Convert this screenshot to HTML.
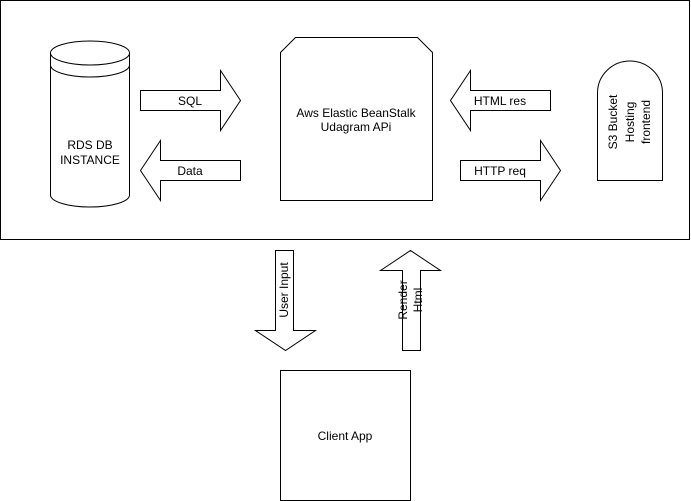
<!DOCTYPE html>
<html><head><style>body{margin:0;background:#fff}svg{display:block}text{font-family:"Liberation Sans",Arial,sans-serif;font-size:12px;fill:#000}</style></head>
<body>
<svg width="691" height="501" viewBox="0 0 691 501" xmlns="http://www.w3.org/2000/svg">
<g fill="#fff" stroke="#000" stroke-width="1">
<rect x="0.5" y="0.5" width="689" height="239"/>
<path d="M50.5 53 A39.5 12 0 0 1 129.5 53 V195 A39.5 12 0 0 1 50.5 195 Z"/>
<path d="M50.5 53 A39.5 12 0 0 0 129.5 53 M50.5 65 A39.5 12 0 0 0 129.5 65" fill="none"/>
<path d="M140.5 90.5 H220.5 V70.5 L240.5 100.5 L220.5 130.5 V110.5 H140.5 Z"/>
<path d="M240.5 160.5 H160.5 V140.5 L140.5 170.5 L160.5 200.5 V180.5 H240.5 Z"/>
<path d="M295.5 37.5 H417.5 L432.5 52.5 V200.5 H280.5 V52.5 Z"/>
<path d="M550.5 90.5 H470.5 V70.5 L450.5 100.5 L470.5 130.5 V110.5 H550.5 Z"/>
<path d="M460.5 160.5 H540.5 V140.5 L560.5 170.5 L540.5 200.5 V180.5 H460.5 Z"/>
<path d="M597.5 180.5 V93 A32.5 32 0 0 1 662.5 93 V180.5 Z"/>
<path d="M275.5 250.5 H293.5 V330.5 H315.5 L285.5 350.5 L255.5 330.5 H275.5 Z"/>
<path d="M402.5 350.5 H420.5 V270.5 H440.5 L410.5 250.5 L380.5 270.5 H402.5 Z"/>
<rect x="280.5" y="370.5" width="130" height="130"/>
</g>
<text x="90" y="149" text-anchor="middle">RDS DB</text>
<text x="90" y="164" text-anchor="middle">INSTANCE</text>
<text x="190" y="105" text-anchor="middle">SQL</text>
<text x="190" y="175" text-anchor="middle">Data</text>
<text x="356" y="117" text-anchor="middle">Aws Elastic BeanStalk</text>
<text x="356" y="131" text-anchor="middle">Udagram APi</text>
<text x="500" y="105" text-anchor="middle">HTML res</text>
<text x="500" y="175" text-anchor="middle">HTTP req</text>
<g transform="translate(630,122) rotate(-90)">
<text x="0" y="-13" text-anchor="middle">S3 Bucket</text>
<text x="0" y="4" text-anchor="middle">Hosting</text>
<text x="0" y="20" text-anchor="middle">frontend</text>
</g>
<text transform="translate(288,290) rotate(-90)" text-anchor="middle">User Input</text>
<g transform="translate(411,300) rotate(-90)">
<text x="0" y="-4" text-anchor="middle">Render</text>
<text x="0" y="11" text-anchor="middle">Html</text>
</g>
<text x="345" y="440" text-anchor="middle">Client App</text>
</svg>
</body></html>
